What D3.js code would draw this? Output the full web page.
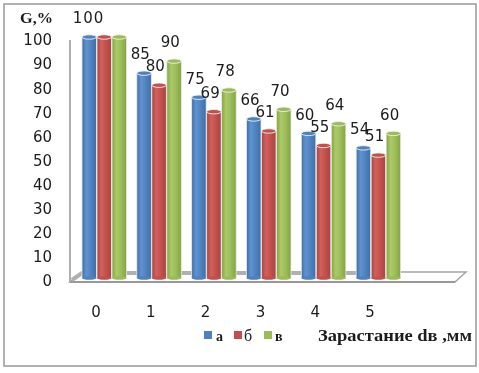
<!DOCTYPE html>
<html><head><meta charset="utf-8">
<script src="https://cdn.jsdelivr.net/npm/d3@7/dist/d3.min.js"></script>
<style>html,body{margin:0;padding:0;background:#fff}svg{display:block}</style>
</head><body><svg id="c" width="479" height="373"></svg>
<script>
const categories = ["0","1","2","3","4","5"];
const seriesNames = ["а","б","в"];
const valuesA = [100,85,75,66,60,54];
const valuesB = [100,80,69,61,55,51];
const valuesC = [100,90,78,70,64,60];
const yTicks = [0,10,20,30,40,50,60,70,80,90,100];
const colors = ["#4f81bd","#c0504d","#9bbb59"];
const darks = ["#3f6ea6","#a84442","#83a244"];
const lights = ["#5f93d0","#d2605c","#acca68"];
const allSeries = [valuesA,valuesB,valuesC];

const svg = d3.select("#c");
const defs = svg.append("defs");
defs.append("filter").attr("id","soft").append("feGaussianBlur").attr("stdDeviation",0.6);
defs.append("filter").attr("id","softer").append("feGaussianBlur").attr("stdDeviation",0.5);
colors.forEach((c,i)=>{
  const g = defs.append("linearGradient").attr("id","g"+i);
  [[0,darks[i]],[0.3,lights[i]],[0.65,c],[1,darks[i]]].forEach(s=>g.append("stop").attr("offset",s[0]).attr("stop-color",s[1]));
});

svg.append("rect").attr("x",4).attr("y",4).attr("width",472).attr("height",362)
  .attr("fill","#fff").attr("stroke","#a9a9a9").attr("stroke-width",1.8);

const x0 = d3.scaleBand().domain(categories).range([68.5,397.5]).paddingInner(0).paddingOuter(0);
const x1 = d3.scaleBand().domain(d3.range(3)).range([13.5,58.5]);
const yBar = d3.scaleLinear().domain([0,100]).range([278,37]);
const yAxis = d3.scaleLinear().domain([0,100]).range([281,40]);

const art = svg.append("g").attr("filter","url(#softer)");
const floorPts = [[70,282],[455,282],[466,272],[82,272]];
art.append("path").attr("d",d3.line()(floorPts)+"Z").attr("fill","#fff").attr("stroke","#a6a6a6").attr("stroke-width",1.5);
art.append("path").attr("d",d3.line()([[70,282],[455,282]])).attr("stroke","#999").attr("stroke-width",2);
art.append("path").attr("d",d3.line()([[70,yAxis(100)],[70,282]])).attr("stroke","#a6a6a6").attr("stroke-width",1.8);
art.append("path").attr("d",d3.line()([[72,280],[82,273],[400,273]])).attr("fill","none").attr("stroke","#b0b0b0").attr("stroke-width",4);

allSeries.forEach((vals,s)=>{
  const g = art.append("g");
  const bw = x1.bandwidth()-0.5;
  categories.forEach((c,i)=>{
    const xl = x0(c)+x1(s), top = yBar(vals[i]), base = yBar(0);
    const rx = bw/2, cx = xl+rx;
    g.append("rect").attr("x",xl).attr("y",top).attr("width",bw).attr("height",base-top).attr("fill",`url(#g${s})`)
      .attr("stroke","#e6ebe6").attr("stroke-width",0.8);
    g.append("ellipse").attr("cx",cx).attr("cy",base).attr("rx",rx).attr("ry",1.8).attr("fill",colors[s]);
    g.append("ellipse").attr("cx",cx).attr("cy",top).attr("rx",rx).attr("ry",2.2).attr("fill",colors[s]).attr("stroke","#eef2ee").attr("stroke-width",0.9);
  });
});

const text = svg.append("g").attr("filter","url(#soft)").attr("fill","#1c1c1c").style("font-family","'Liberation Serif',serif");
const sans = "'DejaVu Sans',sans-serif";

const axisG = text.append("g").attr("transform","translate(52,0)")
  .call(d3.axisLeft(yAxis).tickValues(yTicks).tickSize(0).tickPadding(0));
axisG.select(".domain").remove();
axisG.selectAll("text").attr("font-family",sans).attr("font-size",15).attr("fill","#1c1c1c");

const xAxisG = text.append("g").attr("transform","translate(0,312)")
  .call(d3.axisBottom(x0).tickSize(0).tickPadding(0));
xAxisG.select(".domain").remove();
xAxisG.selectAll("text").attr("dy","0.35em").attr("y",0).attr("font-family",sans).attr("font-size",15).attr("fill","#1c1c1c");

allSeries.forEach((vals,s)=>{
  categories.forEach((c,i)=>{
    if(i===0 && s>0) return;
    const cx = x0(c)+x1(s)+x1.bandwidth()/2;
    text.append("text").attr("x",cx-(i===0?1:4)).attr("y",yBar(vals[i])-19).attr("dy","0.35em")
      .attr("text-anchor","middle").attr("font-family",sans)
      .attr("letter-spacing",i===0?1:0).attr("font-size",15).text(vals[i]);
  });
});

text.append("text").attr("x",20).attr("y",23).attr("font-weight","bold").attr("font-size",15.5)
  .attr("textLength",33).attr("lengthAdjust","spacingAndGlyphs").text("G,%");

const legX = [204,234,264];
const legLabelX = [216,244,275];
seriesNames.forEach((n,i)=>{
  text.append("rect").attr("x",legX[i]).attr("y",331).attr("width",8).attr("height",8).attr("fill",colors[i]);
  text.append("text").attr("x",legLabelX[i]).attr("y",341).attr("font-size",i===1?16:14).attr("font-weight",i===1?"normal":"bold").text(n);
});
text.append("text").attr("x",318).attr("y",341).attr("font-weight","bold").attr("font-size",16)
  .attr("textLength",154).attr("lengthAdjust","spacingAndGlyphs").text("Зарастание dв ,мм");
</script></body></html>
